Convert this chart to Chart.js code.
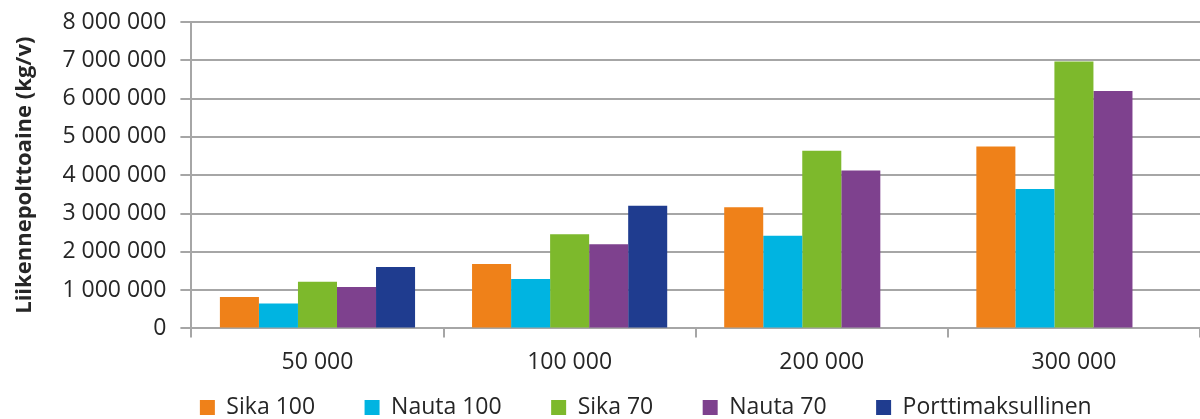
<!DOCTYPE html>
<html>
<head>
<meta charset="utf-8">
<script src="https://cdn.jsdelivr.net/npm/chart.js@4/dist/chart.umd.min.js"></script>
<style>
  html, body { margin: 0; padding: 0; background: #fff; }
  #wrap { width: 1200px; height: 419px; }
</style>
</head>
<body>
<div id="wrap"><canvas id="chart"></canvas></div>
<script>
const categories = [ '50 000', '100 000', '200 000', '300 000' ]
const sika100 = [ 820000, 1680000, 3160000, 4750000 ]
const nauta100 = [ 650000, 1290000, 2420000, 3640000 ]
const sika70 = [ 1220000, 2460000, 4640000, 6970000 ]
const nauta70 = [ 1080000, 2200000, 4120000, 6200000 ]
const porttimaksullinen = [ 1600000, 3200000, null, null ]

const GRID = '#a6a6a6'
const TEXT = '#262626'
const FONT = "'Open Sans', 'Noto Sans', sans-serif"

const fmt = ( v ) => String( v ).replace( /\B(?=(\d{3})+(?!\d))/g, ' ' )

const ds = ( label, data, color ) => ( {
  label, data,
  backgroundColor: color,
  borderColor: color,
  borderWidth: 0
} )

// nudges the legend row so it sits where the original one does
const legendShift = {
  id: 'legendShift',
  afterLayout( chart ) {
    const lg = chart.legend
    lg.left += 66
    lg.right += 66
  }
}

new Chart( document.getElementById( 'chart' ), {
  type: 'bar',
  data: {
    labels: categories,
    datasets: [
      ds( 'Sika 100', sika100, '#ef8119' ),
      ds( 'Nauta 100', nauta100, '#00b4e1' ),
      ds( 'Sika 70', sika70, '#7db92c' ),
      ds( 'Nauta 70', nauta70, '#7e418e' ),
      ds( 'Porttimaksullinen', porttimaksullinen, '#1f3c8f' )
    ]
  },
  plugins: [ legendShift ],
  options: {
    responsive: true,
    maintainAspectRatio: false,
    animation: false,
    events: [ ],
    layout: { padding: { top: 22, right: 0, left: 0, bottom: -10 } },
    datasets: { bar: { categoryPercentage: 0.774, barPercentage: 1 } },
    plugins: {
      legend: {
        position: 'bottom',
        labels: {
          boxWidth: 15, boxHeight: 15, padding: 9,
          color: TEXT,
          font: { family: FONT, size: 23 },
          generateLabels: ( chart ) =>
            Chart.defaults.plugins.legend.labels.generateLabels( chart )
              .map( ( l ) => ( { ...l, text: l.text + '\u2002\u2002\u2002 ' } ) )
        }
      },
      tooltip: { enabled: false }
    },
    scales: {
      x: {
        grid: { color: GRID, lineWidth: 2, drawOnChartArea: false, tickLength: 9, offset: true },
        border: { color: GRID, width: 2 },
        ticks: { color: TEXT, font: { family: FONT, size: 23 }, padding: 11 }
      },
      y: {
        min: 0, max: 8000000,
        afterFit: ( s ) => { s.paddingTop = 0 },
        ticks: {
          stepSize: 1000000, color: TEXT, padding: 14,
          font: { family: FONT, size: 23 },
          callback: ( v ) => fmt( v )
        },
        grid: { color: GRID, lineWidth: 2, tickLength: 11 },
        border: { color: GRID, width: 2 },
        title: {
          display: true, text: 'Liikennepolttoaine (kg/v)', color: TEXT,
          font: { family: FONT, size: 22, weight: 'bold' }, padding: { top: 12, bottom: 10 }
        }
      }
    }
  }
} )
</script>
</body>
</html>
